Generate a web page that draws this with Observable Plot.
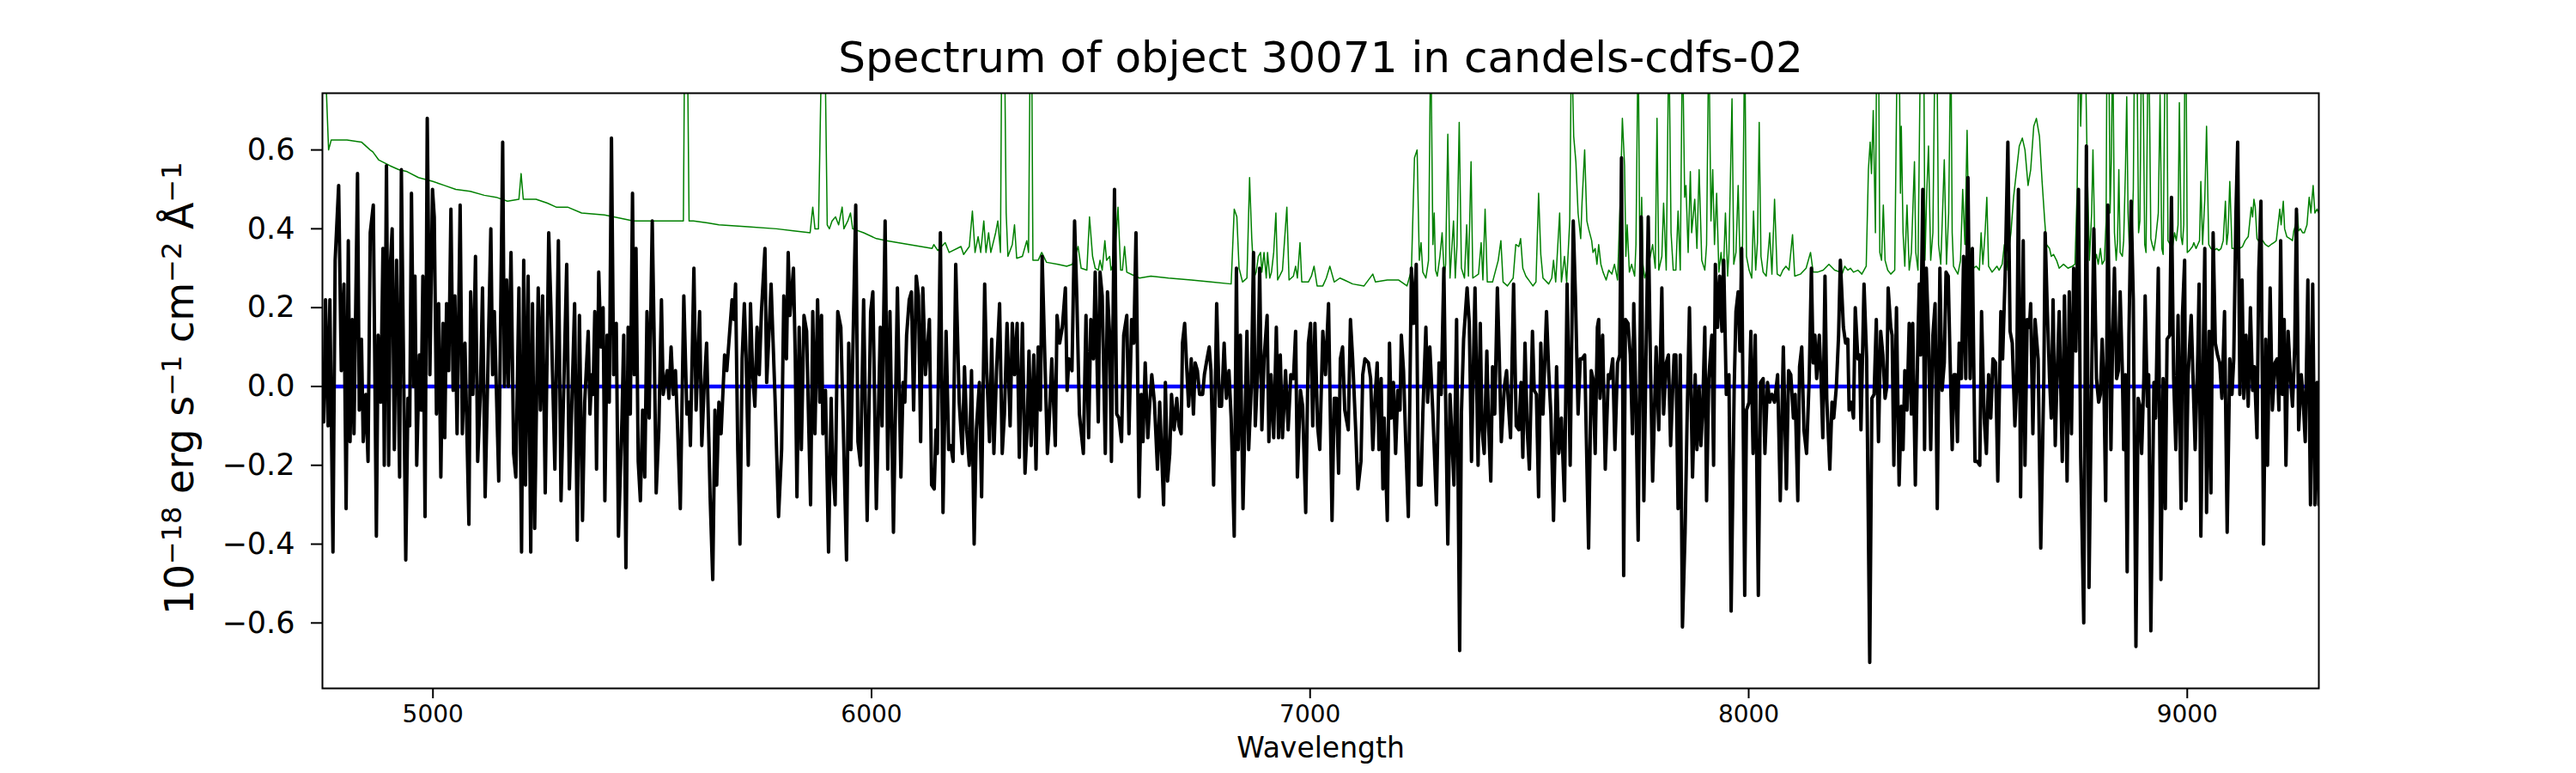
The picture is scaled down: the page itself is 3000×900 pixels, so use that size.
<!DOCTYPE html>
<html>
<head>
<meta charset="utf-8">
<script src="https://cdn.jsdelivr.net/npm/d3@7"></script>
<script src="https://cdn.jsdelivr.net/npm/@observablehq/plot@0.6"></script>
<style>
  html, body { margin: 0; padding: 0; background: white; }
  #chart svg { display: block; }
</style>
</head>
<body>
<div id="chart"></div>
<script>
const titleText = "Spectrum of object 30071 in candels-cdfs-02";
const xLabel = "Wavelength";
const xTicks = [5000, 6000, 7000, 8000, 9000];
const yTicks = [-0.6, -0.4, -0.2, 0, 0.2, 0.4, 0.6];
const xDomain = [4748, 9300];
const yDomain = [-0.766, 0.744];

const blackWave = [4748,4751,4755,4761,4765,4772,4777,4785,4791,4797,4802,4807,4811,4816,4820,4828,4832,4837,4841,4847,4852,4857,4864,4871,4875,4881,4886,4889,4894,4899,4903,4907,4912,4917,4924,4928,4938,4943,4947,4951,4956,4959,4963,4969,4973,4977,4982,4987,4993,4999,5003,5008,5013,5018,5023,5027,5031,5036,5041,5046,5050,5055,5062,5067,5073,5082,5086,5091,5097,5102,5108,5113,5119,5124,5132,5136,5140,5150,5159,5163,5168,5172,5178,5184,5189,5196,5202,5207,5211,5217,5223,5227,5232,5240,5245,5250,5256,5264,5269,5278,5286,5292,5297,5305,5311,5316,5323,5329,5334,5341,5346,
5354,5358,5362,5365,5369,5373,5378,5383,5388,5392,5397,5402,5407,5412,5418,5423,5431,5435,5440,5445,5450,5455,5459,5463,5468,5473,5478,5483,5488,5493,5500,5504,5509,5515,5521,5525,5534,5538,5543,5548,5553,5558,5564,5572,5579,5584,5587,5595,5600,5608,5613,5618,5624,5632,5638,5643,5647,5652,5657,5665,5670,5682,5686,5690,5695,5700,5705,5710,5714,5719,5724,5729,5734,5739,5744,5749,5757,5761,5766,5771,5775,5780,5788,5795,5800,5806,5810,5814,5822,5826,5830,5835,5840,5846,5852,5856,5861,5866,5871,5877,5882,5886,5889,5895,5902,5908,
5911,5917,5923,5930,5936,5943,5948,5953,5964,5969,5975,5982,5990,5998,6003,6011,6020,6024,6031,6037,6042,6050,6059,6067,6072,6076,6080,6086,6091,6096,6102,6107,6112,6117,6123,6129,6132,6137,6143,6147,6150,6157,6163,6170,6176,6181,6186,6192,6200,6207,6212,6217,6223,6228,6234,6239,6246,6251,6258,6262,6269,6274,6279,6285,6292,6298,6303,6309,6316,6321,6326,6332,6337,6344,6350,6355,6359,6364,6370,6375,6380,6385,6389,6395,6401,6404,6411,6419,6423,6429,6435,6442,6446,6450,6457,6463,6468,6474,6483,
6489,6495,6500,6506,6510,6517,6521,6526,6533,6538,6543,6547,6554,6559,6564,6570,6575,6582,6587,6593,6598,6603,6610,6615,6619,6624,6630,6634,6639,6645,6652,6657,6666,6670,6675,6680,6684,6690,6696,6701,6706,6709,6714,6719,6723,6729,6734,6738,6743,6748,6755,6759,6765,6770,6774,6780,6787,6793,6798,6804,6809,6815,6820,6827,6832,6836,6841,6847,6856,6860,6866,6871,6875,6881,6885,6890,6895,6902,6906,6911,6917,6923,6928,6932,6937,6944,6950,6956,6962,6967,6971,6978,6983,6990,6996,7001,7006,7011,7017,7022,7029,7035,7042,7050,7055,7060,
7065,7069,7074,7079,7087,7092,7097,7104,7109,7116,7120,7125,7133,7138,7143,7148,7153,7157,7162,7166,7169,7176,7181,7185,7190,7195,7200,7205,7208,7213,7218,7224,7231,7236,7242,7247,7253,7257,7264,7268,7273,7280,7288,7294,7299,7305,7309,7314,7319,7328,7334,7341,7345,7350,7358,7363,7368,7373,7376,7383,7388,7392,7397,7403,7407,7412,7416,7421,7427,7431,7436,7443,7448,7453,7457,7464,7470,7476,7481,7485,7490,7495,7500,7507,7511,7516,7521,7526,7531,7539,7544,7549,7555,7562,7567,7573,7580,7586,7593,7600,7605,7611,7616,7620,7626,
7635,7641,7645,7650,7655,7658,7661,7667,7673,7680,7684,7690,7695,7701,7706,7710,7715,7719,7725,7730,7735,7738,7743,7748,7755,7761,7766,7771,7776,7781,7789,7795,7802,7806,7812,7817,7822,7827,7830,7834,7839,7844,7849,7855,7860,7865,7872,7878,7882,7887,7891,7895,7900,7904,7909,7916,7920,7924,7929,7934,7939,7943,7949,7955,7960,7967,7971,7976,7980,7984,7991,7995,8001,8005,8010,8015,8022,8027,8033,8037,8043,8048,8053,8059,8066,8072,8079,8086,8091,8096,8102,8106,8112,8116,8121,8126,8132,8138,8143,8147,8151,8155,8161,8165,8169,8174,8178,8185,8190,8194,8200,8205,8209,
8216,8221,8226,8229,8234,8239,8243,8249,8253,8256,8263,8269,8276,8281,8286,8291,8296,8301,8306,8311,8315,8318,8324,8327,8331,8337,8343,8348,8352,8356,8361,8366,8371,8374,8380,8386,8389,8392,8397,8401,8405,8410,8415,8420,8425,8430,8436,8441,8446,8450,8455,8459,8464,8468,8472,8476,8480,8485,8490,8495,8500,8505,8510,8516,8521,8527,8531,8537,8542,8547,8552,8557,8563,8568,8575,8579,8585,8591,8596,8601,8607,8611,8615,8620,8626,8630,8635,8640,8643,8648,8653,8660,8666,8673,8676,8681,8686,8690,8694,8699,8703,8708,8715,8720,8726,8731,8736,8741,8746,8752,8757,8764,8770,8776,8782,8787,
8793,8798,8802,8806,8810,8814,8819,8823,8826,8830,8834,8839,8843,8847,8852,8855,8859,8863,8867,8872,8877,8883,8888,8892,8896,8901,8904,8909,8912,8917,8924,8928,8934,8940,8945,8950,8954,8960,8964,8969,8974,8979,8986,8989,8994,8997,9002,9009,9013,9018,9024,9027,9031,9037,9040,9044,9050,9054,9059,9064,9069,9074,9079,9085,9091,9097,9102,9106,9111,9115,9120,9125,9129,9134,9139,9144,9149,9153,9159,9163,9168,9174,9179,9183,9189,9194,9200,9205,9209,9213,9217,9221,9225,9230,9235,9240,9245,9249,9254,9260,9264,9269,9275,9281,9286,9291,9296,9300];

const blackFlux = [0.02,-0.09,0.22,-0.10,0.22,-0.42,0.32,0.51,0.04,0.26,-0.31,0.37,-0.14,0.17,-0.12,0.54,-0.06,0.12,-0.14,-0.02,-0.19,0.39,0.46,-0.38,0.13,-0.04,0.35,-0.20,0.56,-0.20,0.31,0.40,-0.16,0.32,-0.23,0.55,-0.44,-0.03,-0.10,0.49,0.00,0.28,-0.20,0.08,-0.06,0.28,-0.33,0.68,0.03,0.50,0.43,-0.07,0.21,-0.23,0.16,-0.13,0.21,0.04,0.45,-0.01,0.23,-0.12,0.46,-0.12,0.11,-0.35,0.24,-0.02,0.33,-0.19,-0.02,0.25,-0.28,-0.02,0.40,0.03,0.19,-0.24,0.62,0.00,0.27,0.00,0.34,-0.17,-0.23,0.25,-0.42,0.32,-0.25,0.28,-0.42,0.21,-0.36,0.25,-0.06,0.23,-0.27,0.39,0.20,-0.21,0.37,-0.29,-0.06,0.31,-0.26,-0.07,0.21,-0.39,0.18,-0.34,-0.04,
0.14,-0.07,0.03,-0.02,0.19,-0.21,0.29,0.10,0.20,-0.29,0.13,-0.04,0.63,0.03,0.16,-0.38,-0.08,0.13,-0.46,0.15,-0.07,0.49,0.03,0.35,-0.19,-0.29,-0.06,-0.23,0.19,-0.08,0.42,0.15,-0.27,-0.11,0.22,-0.02,0.04,-0.03,0.10,-0.02,0.04,-0.11,-0.31,0.23,-0.07,-0.04,-0.15,0.30,-0.06,0.19,-0.15,-0.01,0.11,-0.28,-0.49,-0.06,-0.25,-0.04,-0.12,0.08,0.04,0.22,0.17,0.26,-0.16,-0.40,0.07,0.21,0.08,-0.20,0.21,0.03,-0.05,0.15,0.03,0.19,0.35,0.01,0.13,0.26,0.13,-0.03,-0.33,-0.16,0.23,0.07,0.34,0.18,0.30,0.08,-0.28,0.15,-0.16,0.18,0.14,-0.06,-0.30,0.19,-0.12,0.22,-0.04,0.18,-0.12,-0.01,-0.42,-0.03,
-0.19,-0.30,0.19,0.15,-0.12,-0.44,0.11,-0.16,0.46,-0.14,-0.20,0.22,-0.34,0.19,0.24,-0.31,0.15,-0.10,0.42,-0.21,0.19,-0.37,0.25,-0.23,0.01,-0.04,0.13,0.22,0.24,-0.06,0.28,0.23,-0.14,0.25,0.03,0.12,0.17,-0.25,-0.26,-0.11,-0.17,0.39,-0.32,0.14,-0.16,-0.15,-0.19,0.31,-0.04,-0.17,0.05,-0.11,-0.20,0.04,-0.40,-0.11,0.01,-0.28,0.26,0.06,-0.14,0.12,-0.17,0.04,0.21,-0.17,-0.07,0.16,-0.10,0.16,0.03,0.16,-0.18,0.16,-0.22,-0.10,0.09,-0.15,0.08,-0.21,0.10,-0.06,0.33,0.08,-0.17,-0.12,0.07,-0.15,0.18,0.11,0.15,0.25,-0.01,0.07,0.04,0.42,0.23,-0.07,-0.17,
0.18,-0.13,0.17,0.07,0.29,-0.09,0.29,0.23,-0.17,0.24,0.13,-0.19,0.50,-0.07,-0.08,-0.14,0.13,0.18,-0.12,0.17,0.11,0.39,-0.28,-0.02,-0.14,0.06,-0.13,-0.05,0.03,-0.04,-0.21,-0.04,-0.30,0.01,-0.24,-0.17,-0.02,-0.11,-0.03,-0.10,-0.12,0.11,0.16,0.04,-0.05,0.07,-0.07,0.06,0.04,-0.02,-0.02,0.03,0.07,0.10,0.04,-0.25,0.21,-0.05,-0.05,0.11,-0.03,0.04,-0.08,-0.38,0.30,-0.16,0.13,-0.31,0.14,-0.16,0.00,0.34,-0.10,0.05,0.30,-0.11,0.07,0.18,-0.14,0.03,-0.13,0.15,-0.13,0.08,-0.13,0.04,-0.11,0.03,0.02,0.14,-0.23,-0.01,-0.05,-0.32,0.11,0.16,-0.10,0.16,-0.10,-0.16,0.14,0.03,0.21,-0.34,-0.03,-0.03,
-0.22,0.07,0.10,-0.06,-0.11,0.17,0.07,-0.11,-0.26,-0.19,0.03,0.07,0.06,0.02,-0.16,-0.03,0.06,-0.16,0.02,-0.26,-0.08,-0.34,0.11,-0.08,0.01,-0.17,-0.01,-0.06,0.13,0.04,-0.14,-0.33,0.30,0.16,0.31,-0.25,-0.25,-0.07,0.15,-0.04,0.10,-0.07,-0.30,0.06,-0.02,0.30,-0.03,-0.40,-0.02,-0.25,0.17,-0.67,-0.07,0.12,0.25,0.16,-0.19,0.09,0.25,-0.20,0.16,-0.11,-0.17,0.09,-0.10,-0.24,0.05,-0.07,0.25,0.09,-0.14,0.00,0.04,-0.06,-0.13,0.26,-0.10,-0.11,0.01,-0.18,0.11,-0.11,-0.21,0.14,-0.01,-0.02,-0.28,0.11,-0.07,0.19,0.04,-0.07,-0.34,0.05,-0.17,-0.08,-0.29,0.26,-0.20,0.42,0.23,-0.07,0.07,0.07,0.08,
-0.41,0.04,0.02,-0.17,0.15,0.17,-0.03,0.13,-0.21,0.03,0.02,0.07,-0.16,0.06,0.08,0.58,-0.48,0.17,0.16,0.08,-0.12,0.21,-0.04,-0.39,0.43,-0.29,0.08,0.43,0.06,-0.24,0.10,-0.11,0.25,-0.07,0.06,0.08,-0.15,0.00,0.08,0.08,-0.31,0.08,-0.61,-0.37,-0.06,0.20,-0.23,0.03,-0.16,0.00,-0.15,-0.06,0.15,-0.29,0.02,0.13,-0.20,0.31,0.15,0.28,0.14,0.32,-0.02,0.03,-0.57,0.00,0.19,0.24,0.09,0.35,-0.53,-0.06,-0.04,0.14,-0.17,0.13,-0.53,0.01,0.02,-0.17,0.01,-0.04,-0.02,-0.04,0.03,-0.29,0.10,-0.26,0.04,0.03,-0.08,-0.02,-0.29,0.05,0.10,-0.11,-0.17,0.02,0.30,0.06,0.13,0.02,0.13,0.02,-0.13,0.28,-0.03,-0.21,-0.04,-0.08,0.00,0.13,0.32,
0.15,0.11,0.12,-0.06,-0.04,-0.08,0.20,0.07,0.08,-0.11,0.26,0.07,-0.70,-0.03,-0.02,0.17,-0.14,0.14,0.08,-0.03,0.00,0.25,0.15,0.13,-0.20,0.20,-0.25,-0.05,-0.16,0.04,-0.06,0.16,-0.07,0.16,-0.25,0.13,0.26,0.08,0.50,-0.16,0.30,0.13,-0.16,0.13,0.21,-0.31,0.30,-0.01,0.06,0.29,0.28,0.08,-0.16,0.03,0.03,-0.14,0.11,0.02,0.33,0.02,0.53,0.02,0.35,-0.19,-0.19,-0.20,0.19,-0.08,-0.17,0.03,-0.08,0.07,0.06,-0.24,0.19,0.07,0.29,0.62,0.14,0.11,-0.10,0.00,0.50,-0.28,0.37,-0.20,0.17,0.15,0.21,-0.12,0.17,0.07,-0.41,0.02,0.39,0.19,0.02,-0.08,0.22,-0.15,0.02,0.19,-0.19,0.23,-0.24,0.24,-0.12,0.30,0.09,0.50,-0.18,-0.60,0.61,-0.51,0.02,0.40,
0.02,-0.04,-0.02,0.12,0.00,-0.29,0.46,0.08,-0.16,0.13,0.30,0.02,0.04,0.24,0.04,-0.16,0.03,-0.47,0.13,0.47,0.22,-0.66,-0.03,-0.05,-0.17,0.02,0.23,-0.05,0.03,-0.62,0.01,-0.08,0.30,-0.49,0.02,-0.31,0.12,0.13,0.48,0.02,-0.16,0.18,-0.31,0.18,0.32,-0.29,0.03,0.18,0.03,-0.16,0.08,0.26,-0.38,0.13,0.35,-0.32,0.14,-0.27,0.39,0.11,0.08,0.06,-0.03,0.19,-0.37,0.07,-0.02,0.07,0.44,0.62,-0.02,0.27,-0.03,0.13,-0.05,0.20,-0.01,0.05,-0.13,0.29,0.47,-0.40,0.12,-0.20,0.25,-0.06,0.06,0.07,-0.06,0.37,-0.02,0.17,-0.20,0.14,0.03,-0.05,0.10,0.45,-0.11,0.03,-0.03,-0.14,0.27,-0.30,0.26,-0.30,0.01,-0.30];

const greenWave = [4748,4757,4762,4768,4778,4804,4837,4857,4863,4876,4902,4922,4941,4967,5000,5026,5052,5085,5117,5144,5170,5196,5201,5206,5235,5261,5281,5307,5339,
5391,5457,5522,5555,5571,5574,5580,5584,5594,5626,5652,5718,5783,5822,5860,5866,5871,5879,5886,5890,5894,5899,5904,
5910,5918,5925,5933,5937,5946,5952,5957,5982,6011,6034,6060,6086,6112,6138,6142,6151,6168,6177,6204,6210,6223,6230,6236,6243,6249,6256,6261,6267,6272,6283,6288,6294,6297,6303,6307,6311,6321,6326,6331,6344,6354,6358,6362,6365,6368,6380,6388,6399,6425,6445,6458,6471,6478,6491,
6497,6504,6510,6517,6521,6526,6532,6536,6543,6546,6554,6562,6568,6572,6577,6582,6601,6611,6637,6677,6729,6774,6820,6827,6833,6838,6846,6856,6862,6867,6872,6877,6882,6887,6890,6895,6900,6903,6908,6912,6917,6922,6926,6937,6947,6952,6962,6967,6971,6977,6981,6996,7003,7009,7016,7029,7037,7045,7055,7068,
7078,7097,7123,7143,7149,7176,7202,7221,7231,7238,7244,7249,7253,7257,7264,7270,7275,7280,7283,7286,7290,7296,7301,7306,7309,7314,7319,7327,7331,7335,7340,7345,7352,7357,7361,7367,7371,7384,7390,7394,7399,7404,7416,7429,7435,7440,7450,7463,7469,7476,7480,7485,7492,7508,7515,7521,7526,7531,7544,7551,7555,7560,7569,7573,7580,7585,7592,7596,7601,7606,7611,7617,7620,7626,7631,
7635,7642,7645,7650,7654,7658,7663,7668,7675,7681,7688,7694,7701,7707,7712,7717,7720,7723,7728,7733,7740,7743,7748,7752,7756,7759,7763,7772,7781,7787,7791,7795,7802,7806,7812,7818,7823,7828,7834,7839,7844,7849,7854,7857,7862,7867,7870,7877,7882,7887,7893,7900,7904,7909,7914,7918,7922,7927,7932,7937,7942,7947,7952,7955,7962,7966,7971,7976,7981,7986,7991,7995,8001,8007,8011,8016,8020,8024,8028,8033,8040,8048,8053,8059,8065,8072,8078,8085,8092,8100,8105,8118,8131,8141,8147,8157,8170,8183,8196,8209,
8213,8219,8226,8232,8239,8249,8258,8268,8273,8277,8280,8284,8289,8292,8296,8299,8303,8307,8311,8317,8324,8333,8339,8343,8346,8348,8352,8356,8361,8366,8371,8378,8381,8386,8392,8399,8402,8406,8410,8415,8420,8425,8429,8433,8438,8442,8446,8451,8456,8461,8464,8467,8472,8477,8483,8488,8493,8498,8502,8506,8519,8526,8530,8534,8539,8543,8547,8555,8566,8571,8578,8583,8588,8591,8598,8604,8611,8617,8624,8630,8637,8643,8650,8656,8663,8669,8675,8679,8686,8690,8695,8702,8708,8718,8728,8738,8744,8749,8753,8757,8763,8767,8772,8777,8782,8785,8790,
8793,8797,8802,8806,8811,8815,8817,8821,8824,8827,8830,8834,8838,8841,8844,8847,8852,8855,8859,8862,8865,8868,8873,8877,8880,8885,8889,8892,8896,8900,8903,8906,8911,8914,8917,8920,8924,8928,8934,8938,8942,8945,8950,8953,8956,8961,8966,8971,8975,8979,8982,8986,8989,8992,8995,8997,9000,9005,9012,9015,9020,9024,9028,9031,9035,9040,9044,9049,9054,9061,9067,9072,9077,9082,9087,9090,9093,9097,9102,9106,9113,9119,9126,9132,9139,9146,9149,9152,9155,9159,9165,9172,9178,9185,9191,9198,9203,9207,9211,9214,9219,9222,9227,9234,9240,9243,9247,9251,9254,9258,9263,9267,9273,9278,9282,9287,9291,9296,9300];

const greenFlux = [1.0,0.75,0.60,0.625,0.625,0.625,0.62,0.60,0.595,0.575,0.56,0.55,0.545,0.53,0.52,0.51,0.50,0.495,0.485,0.48,0.47,0.475,0.54,0.475,0.475,0.465,0.455,0.455,0.44,
0.435,0.42,0.42,0.42,0.42,0.9,0.9,0.42,0.42,0.415,0.41,0.405,0.40,0.395,0.39,0.455,0.40,0.40,0.85,0.76,0.85,0.41,0.40,
0.42,0.43,0.41,0.455,0.40,0.42,0.44,0.40,0.39,0.375,0.37,0.365,0.36,0.355,0.35,0.36,0.345,0.365,0.34,0.355,0.335,0.355,0.445,0.34,0.38,0.34,0.42,0.34,0.39,0.34,0.39,0.42,0.34,0.9,0.9,0.44,0.33,0.36,0.41,0.325,0.33,0.37,0.34,0.9,0.9,0.32,0.32,0.34,0.315,0.31,0.305,0.31,0.355,0.30,0.295,
0.43,0.33,0.30,0.295,0.32,0.295,0.37,0.32,0.33,0.295,0.32,0.455,0.295,0.295,0.355,0.29,0.28,0.275,0.28,0.275,0.27,0.265,0.26,0.45,0.43,0.30,0.265,0.275,0.53,0.375,0.275,0.29,0.33,0.34,0.29,0.34,0.275,0.34,0.275,0.29,0.34,0.44,0.27,0.295,0.455,0.27,0.28,0.305,0.275,0.365,0.265,0.265,0.28,0.305,0.255,0.255,0.275,0.305,0.265,0.275,
0.27,0.26,0.255,0.285,0.265,0.27,0.27,0.255,0.295,0.58,0.60,0.32,0.365,0.29,0.275,0.32,0.9,0.36,0.44,0.295,0.28,0.33,0.39,0.28,0.31,0.64,0.275,0.42,0.275,0.36,0.67,0.30,0.275,0.41,0.28,0.57,0.275,0.285,0.365,0.27,0.45,0.265,0.265,0.32,0.37,0.265,0.255,0.275,0.36,0.355,0.375,0.30,0.28,0.255,0.265,0.49,0.335,0.275,0.26,0.275,0.32,0.265,0.44,0.265,0.33,0.265,0.42,0.9,0.635,0.57,0.44,0.375,0.465,0.60,0.42,
0.40,0.37,0.34,0.35,0.31,0.36,0.31,0.29,0.27,0.295,0.285,0.31,0.27,0.465,0.68,0.56,0.33,0.41,0.29,0.31,0.28,0.36,0.9,0.295,0.48,0.31,0.275,0.31,0.36,0.30,0.68,0.295,0.33,0.465,0.295,0.9,0.39,0.295,0.295,0.445,0.295,0.9,0.48,0.51,0.34,0.545,0.39,0.475,0.35,0.55,0.32,0.295,0.36,0.9,0.42,0.55,0.36,0.49,0.29,0.34,0.275,0.44,0.28,0.34,0.73,0.31,0.34,0.51,0.285,0.36,0.9,0.33,0.295,0.275,0.445,0.295,0.365,0.67,0.33,0.29,0.28,0.39,0.285,0.475,0.285,0.28,0.295,0.305,0.295,0.385,0.28,0.285,0.30,0.34,0.29,0.29,0.295,0.31,0.295,0.29,
0.285,0.305,0.295,0.30,0.29,0.295,0.285,0.305,0.55,0.62,0.54,0.70,0.39,0.9,0.9,0.34,0.32,0.46,0.32,0.295,0.285,0.295,0.9,0.9,0.49,0.66,0.39,0.305,0.46,0.295,0.34,0.57,0.34,0.295,0.9,0.9,0.32,0.49,0.61,0.32,0.39,0.9,0.9,0.36,0.31,0.44,0.575,0.31,0.44,0.9,0.39,0.305,0.295,0.285,0.32,0.50,0.36,0.65,0.38,0.295,0.305,0.295,0.39,0.31,0.39,0.48,0.305,0.29,0.305,0.295,0.31,0.36,0.295,0.33,0.39,0.48,0.55,0.61,0.63,0.60,0.51,0.55,0.66,0.68,0.635,0.52,0.42,0.36,0.35,0.33,0.335,0.32,0.30,0.31,0.30,0.305,0.31,0.50,0.9,0.66,0.9,0.9,0.55,0.32,0.44,0.60,0.32,
0.335,0.31,0.35,0.31,0.32,0.42,0.9,0.9,0.44,0.58,0.9,0.39,0.32,0.37,0.55,0.34,0.33,0.37,0.545,0.735,0.44,0.35,0.34,0.50,0.9,0.9,0.39,0.42,0.9,0.71,0.36,0.34,0.9,0.71,0.375,0.36,0.345,0.375,0.44,0.74,0.35,0.335,0.9,0.9,0.37,0.36,0.35,0.39,0.37,0.41,0.72,0.38,0.36,0.41,0.9,0.9,0.34,0.345,0.355,0.365,0.35,0.36,0.37,0.52,0.36,0.475,0.66,0.36,0.35,0.345,0.35,0.345,0.35,0.37,0.47,0.36,0.39,0.52,0.35,0.35,0.345,0.35,0.355,0.37,0.38,0.455,0.43,0.475,0.455,0.375,0.365,0.37,0.36,0.355,0.36,0.365,0.37,0.41,0.45,0.41,0.47,0.40,0.38,0.375,0.37,0.395,0.41,0.44,0.395,0.40,0.39,0.39,0.41,0.48,0.44,0.51,0.44,0.45,0.44];

const black = blackWave.map((w, i) => ({w, f: blackFlux[i]}));
const green = greenWave.map((w, i) => ({w, f: greenFlux[i]}));

const fmtY = d3.format(".1f");

const chart = Plot.plot({
  width: 3000,
  height: 900,
  marginLeft: 375,
  marginRight: 300,
  marginTop: 108,
  marginBottom: 99,
  style: {fontFamily: "DejaVu Sans", background: "white", color: "black"},
  x: {domain: xDomain},
  y: {domain: yDomain},
  marks: [
    Plot.line(green, {x: "w", y: "f", stroke: "#008000", strokeWidth: 1.5, clip: true}),
    Plot.ruleY([0], {stroke: "#0000ff", strokeWidth: 4.5}),
    Plot.line(black, {x: "w", y: "f", stroke: "black", strokeWidth: 4, clip: true}),
    Plot.frame({stroke: "black", strokeWidth: 2}),
    Plot.axisX({ticks: xTicks, tickSize: 12, tickPadding: 8, fontSize: 28, tickFormat: d3.format("d"), label: null, strokeWidth: 2}),
    Plot.axisY({ticks: yTicks, tickSize: 13, tickPadding: 19, fontSize: 35, tickFormat: fmtY, label: null, strokeWidth: 2}),
    Plot.text([xLabel], {text: d => d, frameAnchor: "bottom", lineAnchor: "middle", dy: 70, fontSize: 33, fill: "black"}),
    Plot.text([titleText], {text: d => d, frameAnchor: "top", lineAnchor: "middle", dy: -41, fontSize: 50, fill: "black"})
  ]
});

document.getElementById("chart").appendChild(chart);

// y-axis label with superscripts
const svg = d3.select(chart);
const yl = svg.append("text")
  .attr("transform", "translate(225,452) rotate(-90)")
  .attr("text-anchor", "middle")
  .attr("font-family", "DejaVu Sans")
  .attr("font-size", 46)
  .attr("fill", "black");
const parts = [["10", false], ["\u221218", true], [" erg s", false], ["\u22121", true], [" cm", false], ["\u22122", true], [" \u00C5", false], ["\u22121", true]];
parts.forEach(([t, sup]) => {
  const ts = yl.append("tspan").text(t);
  if (sup) ts.attr("font-size", 32).attr("baseline-shift", "45%");
});
</script>
